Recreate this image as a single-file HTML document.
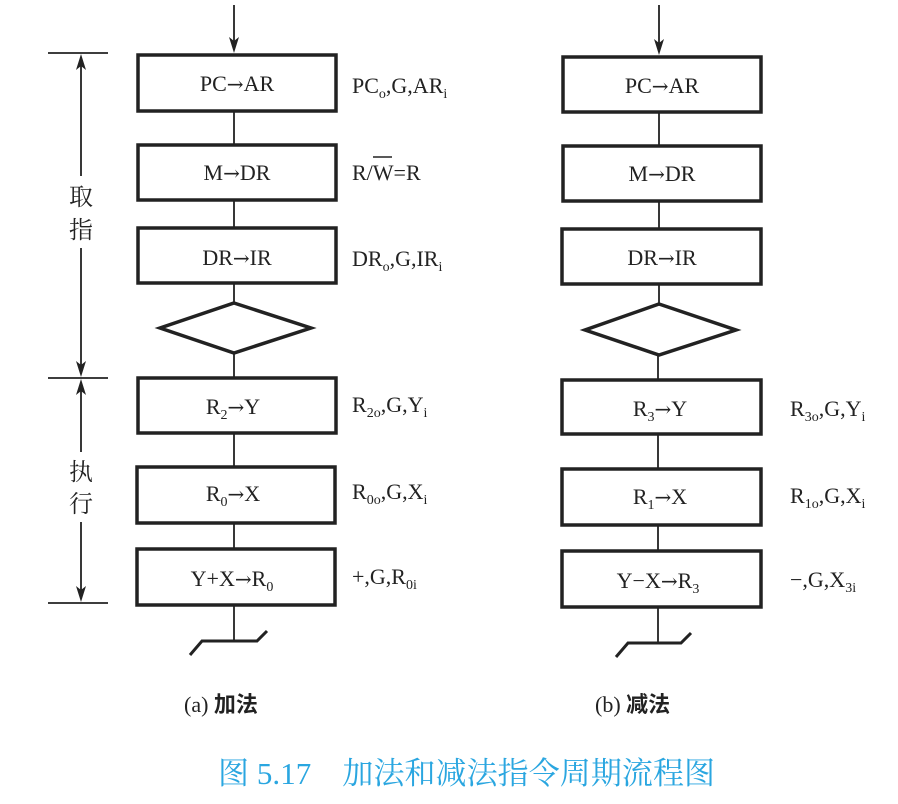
<!DOCTYPE html>
<html><head><meta charset="utf-8"><style>
html,body{margin:0;padding:0;background:#fff;}
svg{display:block;}
text{font-family:"Liberation Serif","Noto Serif CJK SC",serif;fill:#222;}
.cn{font-family:"Liberation Serif","Noto Sans CJK SC",sans-serif;}
.ar{font-family:"DejaVu Serif",serif;font-size:20px;}
</style></head><body>
<svg width="898" height="804" viewBox="0 0 898 804" xmlns="http://www.w3.org/2000/svg">
<g fill="#222">
<polygon points="229,37 234,53 239,37 234,41"/>
<polygon points="654,39 659,55 664,39 659,43"/>
<polygon points="76,70 81,54 86,70 81,66"/>
<polygon points="76,361 81,377 86,361 81,365"/>
<polygon points="76,395 81,379 86,395 81,391"/>
<polygon points="76,586 81,602 86,586 81,590"/>
</g>
<g stroke="#222" fill="none">
<line x1="234" y1="5" x2="234" y2="50" stroke-width="1.8"/>
<rect x="138" y="55" width="198" height="56" stroke-width="3.5"/>
<line x1="234" y1="111" x2="234" y2="145" stroke-width="1.8"/>
<rect x="138" y="145" width="198" height="55" stroke-width="3.5"/>
<line x1="234" y1="200" x2="234" y2="228" stroke-width="1.8"/>
<rect x="138" y="228" width="198" height="55" stroke-width="3.5"/>
<line x1="234" y1="283" x2="234" y2="303" stroke-width="1.8"/>
<polygon points="234,303 311,328 234,353 160,328" stroke-width="3.5"/>
<line x1="234" y1="353" x2="234" y2="378" stroke-width="1.8"/>
<rect x="138" y="378" width="198" height="55" stroke-width="3.5"/>
<line x1="234" y1="433" x2="234" y2="467" stroke-width="1.8"/>
<rect x="137" y="467" width="198" height="56" stroke-width="3.5"/>
<line x1="234" y1="523" x2="234" y2="549" stroke-width="1.8"/>
<rect x="137" y="549" width="198" height="56" stroke-width="3.5"/>
<line x1="234" y1="605" x2="234" y2="641" stroke-width="1.8"/>
<polyline points="190,655 202,641 257,641 267,631" stroke-width="3"/>
<line x1="48" y1="53" x2="108" y2="53" stroke-width="1.8"/>
<line x1="48" y1="378" x2="108" y2="378" stroke-width="1.8"/>
<line x1="48" y1="603" x2="108" y2="603" stroke-width="1.8"/>
<line x1="81" y1="176" x2="81" y2="60" stroke-width="1.8"/>
<line x1="81" y1="248" x2="81" y2="372" stroke-width="1.8"/>
<line x1="81" y1="452" x2="81" y2="385" stroke-width="1.8"/>
<line x1="81" y1="522" x2="81" y2="596" stroke-width="1.8"/>
<line x1="659" y1="5" x2="659" y2="52" stroke-width="1.8"/>
<rect x="563" y="57" width="198" height="55" stroke-width="3.5"/>
<line x1="659" y1="112" x2="659" y2="146" stroke-width="1.8"/>
<rect x="563" y="146" width="198" height="55" stroke-width="3.5"/>
<line x1="659" y1="201" x2="659" y2="229" stroke-width="1.8"/>
<rect x="562" y="229" width="199" height="55" stroke-width="3.5"/>
<line x1="659" y1="284" x2="659" y2="304" stroke-width="1.8"/>
<polygon points="659,304 736,330 659,355 585,330" stroke-width="3.5"/>
<line x1="658" y1="355" x2="658" y2="380" stroke-width="1.8"/>
<rect x="562" y="380" width="199" height="54" stroke-width="3.5"/>
<line x1="658" y1="434" x2="658" y2="469" stroke-width="1.8"/>
<rect x="562" y="469" width="199" height="56" stroke-width="3.5"/>
<line x1="658" y1="525" x2="658" y2="551" stroke-width="1.8"/>
<rect x="562" y="551" width="199" height="56" stroke-width="3.5"/>
<line x1="658" y1="607" x2="658" y2="643" stroke-width="1.8"/>
<polyline points="616,657 628,643 681,643 691,633" stroke-width="3"/>
</g>
<g font-size="22" text-anchor="middle">
<text x="237" y="91">PC<tspan class="ar">→</tspan>AR</text>
<text x="237" y="180">M<tspan class="ar">→</tspan>DR</text>
<text x="237" y="265">DR<tspan class="ar">→</tspan>IR</text>
<text x="233" y="414">R<tspan font-size="14" dy="5">2</tspan><tspan dy="-5" class="ar">→</tspan>Y</text>
<text x="233" y="501">R<tspan font-size="14" dy="5">0</tspan><tspan dy="-5" class="ar">→</tspan>X</text>
<text x="232" y="586">Y+X<tspan class="ar">→</tspan>R<tspan font-size="14" dy="5">0</tspan></text>
<text x="662" y="93">PC<tspan class="ar">→</tspan>AR</text>
<text x="662" y="181">M<tspan class="ar">→</tspan>DR</text>
<text x="662" y="265">DR<tspan class="ar">→</tspan>IR</text>
<text x="660" y="416">R<tspan font-size="14" dy="5">3</tspan><tspan dy="-5" class="ar">→</tspan>Y</text>
<text x="660" y="504">R<tspan font-size="14" dy="5">1</tspan><tspan dy="-5" class="ar">→</tspan>X</text>
<text x="658" y="588">Y−X<tspan class="ar">→</tspan>R<tspan font-size="14" dy="5">3</tspan></text>
</g>
<g font-size="22">
<text x="352" y="93">PC<tspan font-size="14" dy="5">o</tspan><tspan dy="-5">,G,AR</tspan><tspan font-size="14" dy="5">i</tspan></text>
<text x="352" y="180">R/W=R</text>
<line x1="373" y1="157" x2="392" y2="157" stroke="#222" stroke-width="1.5"/>
<text x="352" y="266">DR<tspan font-size="14" dy="5">o</tspan><tspan dy="-5">,G,IR</tspan><tspan font-size="14" dy="5">i</tspan></text>
<text x="352" y="412">R<tspan font-size="14" dy="5">2o</tspan><tspan dy="-5">,G,Y</tspan><tspan font-size="14" dy="5">i</tspan></text>
<text x="352" y="499">R<tspan font-size="14" dy="5">0o</tspan><tspan dy="-5">,G,X</tspan><tspan font-size="14" dy="5">i</tspan></text>
<text x="352" y="584">+,G,R<tspan font-size="14" dy="5">0i</tspan></text>
<text x="790" y="416">R<tspan font-size="14" dy="5">3o</tspan><tspan dy="-5">,G,Y</tspan><tspan font-size="14" dy="5">i</tspan></text>
<text x="790" y="503">R<tspan font-size="14" dy="5">1o</tspan><tspan dy="-5">,G,X</tspan><tspan font-size="14" dy="5">i</tspan></text>
<text x="790" y="587">−,G,X<tspan font-size="14" dy="5">3i</tspan></text>
</g>
<g font-size="24" class="cn">
<text x="69" y="205">取</text>
<text x="69" y="238">指</text>
<text x="69" y="480">执</text>
<text x="69" y="512">行</text>
</g>
<text x="184" y="712" font-size="22">(a) <tspan font-weight="bold" style="font-family:'Noto Sans CJK SC',sans-serif">加法</tspan></text>
<text x="595" y="712" font-size="22">(b) <tspan font-weight="bold" style="font-family:'Noto Sans CJK SC',sans-serif">减法</tspan></text>
<text x="218" y="784" font-size="31" textLength="497" style="fill:#2aa6e0;font-family:'Liberation Serif','Noto Serif CJK SC',serif">图 5.17　加法和减法指令周期流程图</text>
</svg>
</body></html>
